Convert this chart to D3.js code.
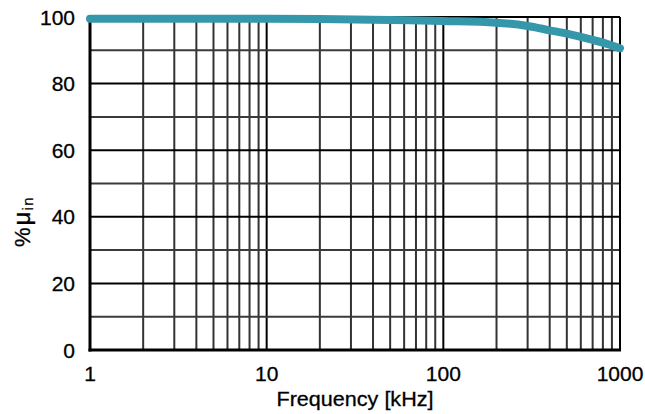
<!DOCTYPE html>
<html>
<head>
<meta charset="utf-8">
<script src="https://cdn.jsdelivr.net/npm/d3@7"></script>
<style>
  body { margin: 0; background: #fff; }
  svg text { font-family: "Liberation Sans", Arial, sans-serif; fill: #000; stroke: #000; stroke-width: 0.3; }
</style>
</head>
<body>
<div id="chart"></div>
<script>
// frequency in kHz and permeability as % of initial
const freq = [1, 2, 5, 10, 20, 50, 100, 200, 300, 400, 500, 600, 700, 800, 900, 1000];
const perm = [99.5, 99.5, 99.5, 99.5, 99.4, 99.1, 98.8, 98.3, 97.3, 96.0, 95.0, 94.0, 93.1, 92.3, 91.4, 90.6];

const xTicks = [1, 10, 100, 1000];
const yTicks = [0, 20, 40, 60, 80, 100];
const yGrid = [10, 20, 30, 40, 50, 60, 70, 80, 90];

const width = 645, height = 414;
const margin = { top: 17, right: 25, bottom: 64, left: 90 };

const svg = d3.select("#chart").append("svg")
    .attr("width", width)
    .attr("height", height);

const x = d3.scaleLog()
    .domain([1, 1000])
    .range([margin.left, width - margin.right]);
const y = d3.scaleLinear()
    .domain([0, 100])
    .range([height - margin.bottom, margin.top]);

// vertical grid: 2..9 of each decade plus decades
const xGrid = [];
for (let d = 1; d < 1000; d *= 10) {
    for (let k = 1; k <= 9; k++) {
        if (d * k > 1 && d * k < 1000) xGrid.push(d * k);
    }
}

const g = svg.append("g");

g.selectAll(".vgrid")
    .data(xGrid)
    .enter().append("line")
    .attr("class", "vgrid")
    .attr("x1", d => x(d)).attr("x2", d => x(d))
    .attr("y1", y(0)).attr("y2", y(100))
    .attr("stroke", d => xTicks.includes(d) ? "#000" : "#333")
    .attr("stroke-width", 2);

g.selectAll(".hgrid")
    .data(yGrid)
    .enter().append("line")
    .attr("class", "hgrid")
    .attr("x1", x(1)).attr("x2", x(1000))
    .attr("y1", d => y(d)).attr("y2", d => y(d))
    .attr("stroke", d => d % 20 === 0 ? "#000" : "#3a3a3a")
    .attr("stroke-width", 2);

// frame
g.append("line")
    .attr("x1", x(1)).attr("x2", x(1000))
    .attr("y1", y(100)).attr("y2", y(100))
    .attr("stroke", "#000").attr("stroke-width", 2);
g.append("line")
    .attr("x1", x(1000)).attr("x2", x(1000))
    .attr("y1", y(0)).attr("y2", y(100))
    .attr("stroke", "#000").attr("stroke-width", 2);
g.append("line")
    .attr("x1", x(1)).attr("x2", x(1))
    .attr("y1", y(0) + 1.5).attr("y2", y(100))
    .attr("stroke", "#000").attr("stroke-width", 3);
g.append("line")
    .attr("x1", x(1) - 1.5).attr("x2", x(1000) + 1)
    .attr("y1", y(0)).attr("y2", y(0))
    .attr("stroke", "#000").attr("stroke-width", 3);

// tick labels
svg.selectAll(".ylab")
    .data(yTicks)
    .enter().append("text")
    .attr("class", "ylab")
    .attr("x", 75)
    .attr("y", d => y(d))
    .attr("dy", "0.36em")
    .attr("text-anchor", "end")
    .attr("font-size", 21)
    .text(d => d);

svg.selectAll(".xlab")
    .data(xTicks)
    .enter().append("text")
    .attr("class", "xlab")
    .attr("x", d => x(d))
    .attr("y", 381)
    .attr("text-anchor", "middle")
    .attr("font-size", 21)
    .text(d => d);

svg.append("text")
    .attr("x", (x(1) + x(1000)) / 2)
    .attr("y", 406)
    .attr("text-anchor", "middle")
    .attr("font-size", 20.5)
    .attr("textLength", 157)
    .attr("lengthAdjust", "spacingAndGlyphs")
    .text("Frequency [kHz]");

// y title: %μ with subscript "in"
const yl = svg.append("text")
    .attr("transform", "translate(30,247) rotate(-90)")
    .attr("x", 0).attr("y", 0);
yl.append("tspan").attr("font-size", 22).text("%");
yl.append("tspan").attr("font-size", 24).attr("dx", 2).text("μ");
yl.append("tspan").attr("font-size", 15).attr("dy", 3).attr("dx", 1)
    .attr("letter-spacing", 1.5)
    .style("stroke-width", 0.2)
    .text("in");

// curve
const line = d3.line()
    .x((d, i) => x(freq[i]))
    .y(d => y(d))
    .curve(d3.curveMonotoneX);

svg.append("path")
    .datum(perm)
    .attr("d", line)
    .attr("fill", "none")
    .attr("stroke", "#3597aa")
    .attr("stroke-width", 8)
    .attr("stroke-linecap", "round");
</script>
</body>
</html>
